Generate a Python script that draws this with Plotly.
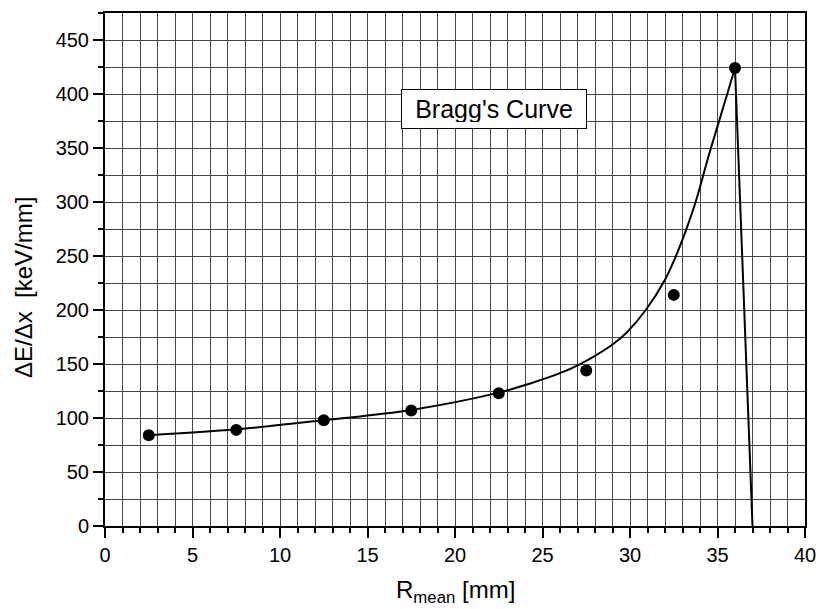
import plotly.graph_objects as go

# Measured points
r_mean = [2.5, 7.5, 12.5, 17.5, 22.5, 27.5, 32.5, 36.0]
dedx = [84, 89, 98, 107, 123, 144, 214, 424]

# Fitted curve
curve_x = [2.5, 7.5, 12.5, 17.5, 22.5, 24.3, 26.0, 27.1, 28.0, 29.0, 29.8, 30.9, 32.0, 32.6, 33.2, 33.75, 34.5, 35.0, 35.5, 36.0]
curve_y = [84, 89.5, 98, 107.5, 123.5, 132, 141.5, 149.5, 157.5, 168, 179, 200, 228, 249, 274, 300, 343, 370, 397, 424]

# Drop after the peak
drop_x = [36.0, 37.0]
drop_y = [424, 0]

FONT = "Liberation Sans"

fig = go.Figure()
fig.add_trace(go.Scatter(x=curve_x, y=curve_y, mode="lines",
                         line=dict(color="black", width=2, shape="spline", smoothing=1.0),
                         showlegend=False, hoverinfo="skip"))
fig.add_trace(go.Scatter(x=drop_x, y=drop_y, mode="lines",
                         line=dict(color="black", width=2),
                         showlegend=False, hoverinfo="skip"))
fig.add_trace(go.Scatter(x=r_mean, y=dedx, mode="markers",
                         marker=dict(color="black", size=12, symbol="circle"),
                         showlegend=False))

grid_col = "rgb(70,70,70)"
fig.update_xaxes(range=[0, 40], dtick=5, tick0=0, showgrid=True, gridcolor=grid_col, gridwidth=1,
                 minor=dict(dtick=1, showgrid=True, gridcolor=grid_col, gridwidth=1,
                            ticks="outside", ticklen=5, tickcolor="black", tickwidth=1.5),
                 ticks="outside", ticklen=10, tickwidth=1.5, tickcolor="black",
                 showline=True, linecolor="black", linewidth=2, mirror=True, automargin=False,
                 ticklabeloverflow="allow",
                 zeroline=False, tickfont=dict(size=20, family=FONT, color="black"))
fig.update_yaxes(range=[0, 475], dtick=50, tick0=0, showgrid=True, gridcolor=grid_col, gridwidth=1,
                 minor=dict(dtick=25, showgrid=True, gridcolor=grid_col, gridwidth=1,
                            ticks="outside", ticklen=5, tickcolor="black", tickwidth=1.5),
                 ticks="outside", ticklen=10, tickwidth=1.5, tickcolor="black",
                 showline=True, linecolor="black", linewidth=2, mirror=True, automargin=False,
                 ticklabeloverflow="allow",
                 zeroline=False, tickfont=dict(size=20, family=FONT, color="black"))

fig.add_annotation(x=22.23, y=386, xref="x", yref="y", text="Bragg's Curve",
                   showarrow=False, font=dict(size=25, family=FONT, color="black"),
                   width=172, height=26,
                   bgcolor="white", bordercolor="black", borderwidth=1, borderpad=6)

fig.add_annotation(x=0.5, y=0, xref="paper", yref="paper", yshift=-48, yanchor="top",
                   text="R<sub>mean</sub> [mm]", showarrow=False,
                   font=dict(size=24, family=FONT, color="black"))
fig.add_annotation(x=0, y=0.464, xref="paper", yref="paper", xshift=-81, xanchor="center",
                   text="ΔE/Δx  [keV/mm]", textangle=-90, showarrow=False,
                   font=dict(size=24, family=FONT, color="black"))

fig.update_layout(width=816, height=609, margin=dict(l=105, r=11, t=13, b=83, autoexpand=False),
                  plot_bgcolor="white", paper_bgcolor="white",
                  font=dict(family=FONT, color="black"))

fig.write_html("out.html", config={"displayModeBar": False},
               post_script="document.body.style.margin='0';document.body.style.overflow='hidden';")
